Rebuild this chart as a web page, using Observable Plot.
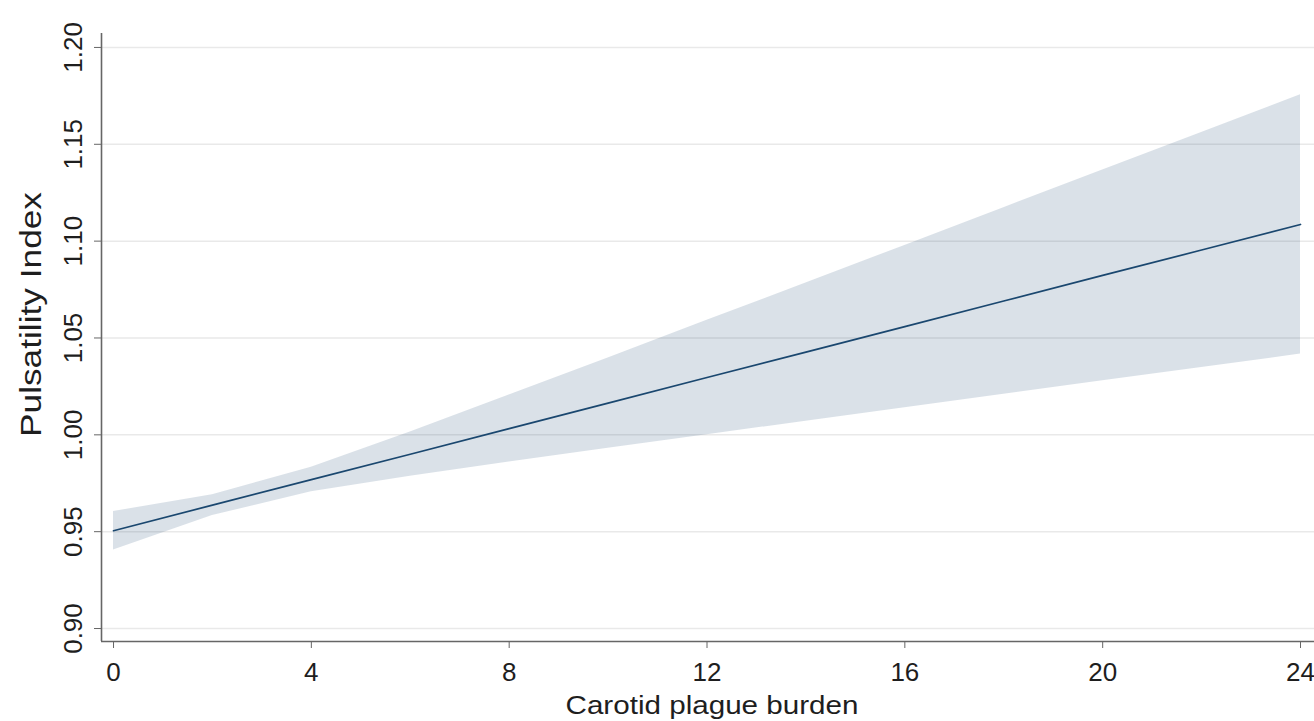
<!DOCTYPE html>
<html>
<head>
<meta charset="utf-8">
<script src="https://cdn.jsdelivr.net/npm/d3@7"></script>
<script src="https://cdn.jsdelivr.net/npm/@observablehq/plot@0.6"></script>
<style>
  html, body { margin: 0; padding: 0; background: #fff; overflow: hidden; }
  #chart { width: 1314px; height: 721px; }
</style>
</head>
<body>
<div id="chart"></div>
<script>
// Values
const burden = [0, 2, 4, 6, 8, 10, 12, 14, 16, 18, 20, 22, 24];
const fitted = [0.9505, 0.9637, 0.9769, 0.9900, 1.0032, 1.0164, 1.0296, 1.0427, 1.0559, 1.0691, 1.0823, 1.0954, 1.1086];
const ciLow  = [0.9406, 0.9583, 0.9706, 0.9786, 0.9860, 0.9931, 1.0001, 1.0070, 1.0140, 1.0209, 1.0279, 1.0347, 1.0417];
const ciHigh = [0.9604, 0.9691, 0.9832, 1.0014, 1.0205, 1.0397, 1.0591, 1.0784, 1.0978, 1.1173, 1.1367, 1.1561, 1.1756];

const xTicks = [0, 4, 8, 12, 16, 20, 24];
const yTicks = [0.90, 0.95, 1.00, 1.05, 1.10, 1.15, 1.20];
const yTickLabels = ["0.90", "0.95", "1.00", "1.05", "1.10", "1.15", "1.20"];
const xTitle = "Carotid plague burden";
const yTitle = "Pulsatility Index";

const xDomain = [-0.243, 24.283];
const yDomain = [0.8933, 1.2072];

const data = burden.map((x, i) => ({x, fit: fitted[i], lo: ciLow[i], hi: ciHigh[i]}));

const navy = "#1a476f";
const axisGray = "#666666";
const font = "'Liberation Sans', Arial, Helvetica, sans-serif";

const svg = Plot.plot({
  width: 1314,
  height: 721,
  marginLeft: 101,
  marginRight: 0,
  marginTop: 33,
  marginBottom: 80,
  style: {fontFamily: font, fontSize: "26px", background: "#fff", color: "#1e1e1e"},
  x: {domain: xDomain, ticks: xTicks},
  y: {domain: yDomain, ticks: yTicks},
  marks: [
    Plot.gridY(yTicks, {stroke: "#e9e9e9", strokeOpacity: 1, strokeWidth: 1.5}),
    Plot.areaY(data, {x: "x", y1: "lo", y2: "hi", fill: navy, fillOpacity: 0.16}),
    Plot.line(data, {x: "x", y: "fit", stroke: navy, strokeWidth: 1.7}),
    Plot.ruleX([xDomain[0]], {stroke: axisGray, strokeWidth: 1.6}),
    Plot.ruleY([yDomain[0]], {stroke: axisGray, strokeWidth: 1.6}),
    Plot.axisX(xTicks, {tickSize: 7, tickPadding: 14, fontSize: 26, stroke: axisGray, fill: "#1e1e1e", label: null, tickFormat: d => String(d)}),
    Plot.axisY(yTicks, {tickSize: 7, stroke: axisGray, label: null, tickFormat: () => ""}),
    Plot.text(yTicks, {x: xDomain[0], y: d => d, text: (d, i) => yTickLabels[i], rotate: -90, dx: -28, fontSize: 26, fill: "#1e1e1e", lineAnchor: "middle", textAnchor: "middle"}),
    Plot.text([yTitle], {frameAnchor: "left", text: d => d, rotate: -90, dx: -70, dy: -23, fontSize: 29, fill: "#1e1e1e", lineAnchor: "middle", textAnchor: "middle"}),
    Plot.text([xTitle], {frameAnchor: "bottom", text: d => d, dx: 4, dy: 54, fontSize: 26, fill: "#1e1e1e", lineAnchor: "top", textAnchor: "middle"})
  ]
});

d3.select(svg).selectAll("text").each(function() {
  const t = this.textContent;
  if (t === yTitle) { this.setAttribute("textLength", 245); this.setAttribute("lengthAdjust", "spacingAndGlyphs"); }
  if (t === xTitle) { this.setAttribute("textLength", 293); this.setAttribute("lengthAdjust", "spacingAndGlyphs"); }
});

document.getElementById("chart").appendChild(svg);
</script>
</body>
</html>
